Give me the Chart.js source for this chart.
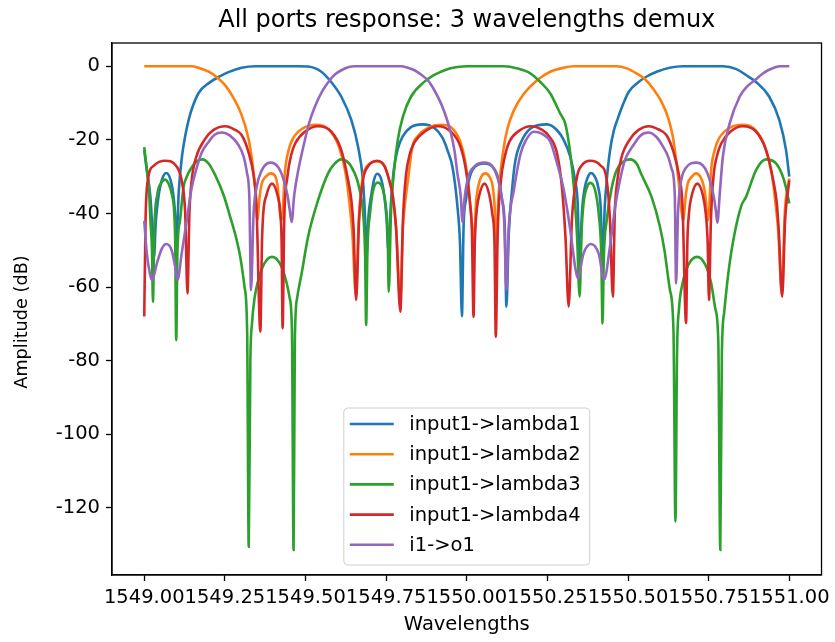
<!DOCTYPE html>
<html>
<head>
<meta charset="utf-8">
<title>All ports response: 3 wavelengths demux</title>
<script src="https://cdn.jsdelivr.net/npm/chart.js@4.4.1/dist/chart.umd.min.js"></script>
<style>
  html, body { margin: 0; padding: 0; background: #ffffff; }
  #wrap { width: 835px; height: 642px; }
</style>
</head>
<body>
<div id="wrap"><canvas id="chart" width="835" height="642"></canvas></div>
<script>
// ---- chart text ----
const chartTitle = 'All ports response: 3 wavelengths demux';
const xAxisLabel = 'Wavelengths';
const yAxisLabel = 'Amplitude (dB)';
const seriesNames = ['input1->lambda1', 'input1->lambda2', 'input1->lambda3', 'input1->lambda4', 'i1->o1'];
const seriesColors = ['#1f77b4', '#ff7f0e', '#2ca02c', '#d62728', '#9467bd'];

// ---- tick positions ----
const xTickValues = [1549.00, 1549.25, 1549.50, 1549.75, 1550.00, 1550.25, 1550.50, 1550.75, 1551.00];
const yTickValues = [-120, -100, -80, -60, -40, -20, 0];

// ---- input1->lambda1 ----
const lambda1Wl = [1549.000, 1549.008, 1549.019, 1549.025, 1549.030, 1549.036, 1549.044, 1549.055, 1549.068, 1549.082,
  1549.091, 1549.096, 1549.099, 1549.107, 1549.117, 1549.128, 1549.138, 1549.148, 1549.169, 1549.200,
  1549.231, 1549.261, 1549.302, 1549.345, 1549.477, 1549.508, 1549.549, 1549.575, 1549.611, 1549.642,
  1549.663, 1549.678, 1549.684, 1549.689, 1549.695, 1549.704, 1549.712, 1549.722, 1549.734, 1549.744,
  1549.751, 1549.757, 1549.765, 1549.774, 1549.786, 1549.802, 1549.826, 1549.863, 1549.900, 1549.925,
  1549.940, 1549.956, 1549.971, 1549.979, 1549.985, 1549.990, 1549.998, 1550.008, 1550.027, 1550.054,
  1550.079, 1550.098, 1550.109, 1550.118, 1550.123, 1550.130, 1550.140, 1550.150, 1550.169, 1550.203,
  1550.249, 1550.280, 1550.301, 1550.321, 1550.336, 1550.344, 1550.350, 1550.357, 1550.366, 1550.376,
  1550.385, 1550.397, 1550.408, 1550.416, 1550.420, 1550.428, 1550.434, 1550.444, 1550.456, 1550.468,
  1550.484, 1550.502, 1550.530, 1550.558, 1550.589, 1550.629, 1550.672, 1550.795, 1550.836, 1550.866,
  1550.897, 1550.938, 1550.969, 1550.990, 1551.000];
const lambda1Db = [-22.8, -28.2, -35.5, -44, -52, -42, -35.5, -30.8, -29, -31,
  -35.5, -41, -50, -34, -24.5, -18.5, -14.5, -11.5, -7.2, -4.6,
  -2.9, -1.6, -0.4, 0, 0, -0.1, -1.5, -3.8, -8.3, -14.6,
  -21.9, -30.9, -40, -52, -41, -35, -31, -29.2, -30.5, -35,
  -41, -50, -37, -28, -22.5, -19, -16.6, -15.8, -16.8, -19.5,
  -22.8, -27.5, -38, -48, -67.9, -44, -36, -30.5, -27.2, -26.4,
  -27.2, -30.5, -36, -44, -65.3, -46, -34, -26, -20.5, -16.6,
  -15.8, -17.4, -20.1, -24.6, -31, -37.3, -55, -40, -33, -30,
  -29, -30, -33, -40, -55, -38, -31, -23, -17.5, -14.3,
  -10.5, -7, -4.5, -2.8, -1.5, -0.4, 0, 0, -0.8, -2.4,
  -4.3, -8.3, -14.6, -22.8, -30];

// ---- input1->lambda2 ----
const lambda2Wl = [1549.000, 1549.148, 1549.169, 1549.200, 1549.228, 1549.251, 1549.272, 1549.302, 1549.323, 1549.335,
  1549.344, 1549.351, 1549.357, 1549.364, 1549.377, 1549.392, 1549.407, 1549.414, 1549.418, 1549.424,
  1549.429, 1549.436, 1549.447, 1549.460, 1549.493, 1549.533, 1549.573, 1549.604, 1549.626, 1549.636,
  1549.645, 1549.656, 1549.665, 1549.676, 1549.690, 1549.724, 1549.746, 1549.758, 1549.771, 1549.781,
  1549.794, 1549.802, 1549.809, 1549.819, 1549.831, 1549.848, 1549.879, 1549.919, 1549.959, 1549.987,
  1550.002, 1550.011, 1550.018, 1550.022, 1550.028, 1550.036, 1550.045, 1550.058, 1550.070, 1550.081,
  1550.087, 1550.092, 1550.098, 1550.105, 1550.115, 1550.126, 1550.146, 1550.177, 1550.218, 1550.259,
  1550.301, 1550.332, 1550.465, 1550.496, 1550.527, 1550.552, 1550.578, 1550.604, 1550.625, 1550.640,
  1550.650, 1550.657, 1550.664, 1550.672, 1550.678, 1550.685, 1550.698, 1550.711, 1550.724, 1550.736,
  1550.742, 1550.746, 1550.751, 1550.757, 1550.768, 1550.781, 1550.814, 1550.854, 1550.894, 1550.925,
  1550.947, 1550.957, 1550.966, 1550.977, 1550.986, 1551.000];
const lambda2Db = [0, 0, -0.45, -1.5, -3.2, -5.2, -7.9, -13.3, -19.6, -26,
  -33.2, -42, -36, -32, -30, -29.1, -30, -33, -37, -42,
  -40, -29, -23, -19.8, -16.8, -15.9, -17.2, -22, -30, -37,
  -45, -62, -42, -31, -27.2, -25.9, -27.2, -30.5, -35.5, -44,
  -64, -44, -37, -30, -22, -19, -16.8, -15.9, -17.2, -22.5,
  -30, -38, -45, -50, -38, -32.5, -30, -29.1, -30, -33,
  -39, -50, -36, -28.5, -21.9, -17, -12, -7.5, -3.8, -1.5,
  -0.4, 0, 0, -0.6, -2, -3.5, -6.1, -9.7, -14.2, -19.6,
  -26, -31.4, -38, -42, -36, -32, -30, -29.1, -30, -33,
  -37, -42, -40, -29, -23, -19.8, -16.8, -15.9, -17.2, -22,
  -30, -37, -45, -62, -40, -30.5];

// ---- input1->lambda3 ----
const lambda3Wl = [1549.000, 1549.008, 1549.015, 1549.019, 1549.024, 1549.027, 1549.031, 1549.041, 1549.052, 1549.064,
  1549.076, 1549.085, 1549.093, 1549.096, 1549.099, 1549.103, 1549.111, 1549.122, 1549.132, 1549.142,
  1549.163, 1549.180, 1549.200, 1549.220, 1549.246, 1549.265, 1549.284, 1549.298, 1549.311, 1549.319,
  1549.324, 1549.329, 1549.334, 1549.342, 1549.354, 1549.373, 1549.396, 1549.420, 1549.439, 1549.451,
  1549.458, 1549.463, 1549.467, 1549.474, 1549.488, 1549.508, 1549.539, 1549.570, 1549.589, 1549.611,
  1549.642, 1549.668, 1549.681, 1549.685, 1549.688, 1549.692, 1549.700, 1549.709, 1549.724, 1549.740,
  1549.749, 1549.755, 1549.758, 1549.765, 1549.775, 1549.786, 1549.802, 1549.827, 1549.869, 1549.894,
  1549.920, 1549.947, 1549.971, 1550.002, 1550.115, 1550.157, 1550.198, 1550.228, 1550.259, 1550.290,
  1550.306, 1550.321, 1550.332, 1550.342, 1550.350, 1550.356, 1550.362, 1550.373, 1550.383, 1550.398,
  1550.409, 1550.417, 1550.421, 1550.425, 1550.434, 1550.450, 1550.465, 1550.484, 1550.506, 1550.527,
  1550.542, 1550.573, 1550.599, 1550.613, 1550.630, 1550.641, 1550.647, 1550.652, 1550.658, 1550.669,
  1550.687, 1550.714, 1550.740, 1550.758, 1550.771, 1550.780, 1550.786, 1550.791, 1550.798, 1550.810,
  1550.826, 1550.851, 1550.866, 1550.897, 1550.928, 1550.959, 1550.978, 1550.990, 1551.000];
const lambda3Db = [-22, -28.2, -34, -41.8, -50, -64, -45, -34.6, -31.8, -30.8,
  -32, -34.6, -40, -48, -74.4, -50, -41.8, -32.8, -30, -28.2,
  -25.8, -25.3, -26.5, -29.6, -35, -40.5, -46.3, -52, -60, -72,
  -130.5, -80, -70, -63, -58, -53.5, -51.8, -53.5, -58, -63,
  -72, -131.4, -74.4, -63, -56.3, -46.3, -36.4, -29.1, -26.6, -25.3,
  -27.3, -33.7, -42.7, -52, -70.3, -50, -40, -34, -31.6, -33.5,
  -38, -46, -61.3, -40, -28, -20.1, -13.7, -8.3, -4.2, -2.6,
  -1.5, -0.6, -0.2, 0, 0, -0.6, -2, -4.3, -7.4, -12.9,
  -15.8, -23.7, -32.8, -46.3, -62.6, -45, -37.3, -32.8, -31.7, -33.7,
  -40, -50.9, -69.9, -52, -41.8, -32.8, -28.2, -26, -25.3, -26.5,
  -29.5, -35.5, -43.6, -50, -60.8, -72, -123.7, -78, -66, -59,
  -54, -51.8, -54, -59, -66, -75, -131.4, -78, -67, -57,
  -47.5, -38, -35.5, -28.2, -25.3, -26.4, -29.5, -33, -37.3];

// ---- input1->lambda4 ----
const lambda4Wl = [1549.000, 1549.004, 1549.011, 1549.030, 1549.065, 1549.101, 1549.118, 1549.127, 1549.134, 1549.140,
  1549.147, 1549.160, 1549.190, 1549.215, 1549.251, 1549.280, 1549.302, 1549.323, 1549.339, 1549.348,
  1549.360, 1549.365, 1549.369, 1549.379, 1549.396, 1549.413, 1549.422, 1549.426, 1549.429, 1549.434,
  1549.444, 1549.456, 1549.468, 1549.498, 1549.539, 1549.580, 1549.611, 1549.632, 1549.643, 1549.649,
  1549.657, 1549.666, 1549.678, 1549.694, 1549.722, 1549.745, 1549.758, 1549.771, 1549.781, 1549.794,
  1549.802, 1549.811, 1549.823, 1549.836, 1549.869, 1549.910, 1549.951, 1549.981, 1549.999, 1550.010,
  1550.016, 1550.021, 1550.025, 1550.030, 1550.039, 1550.055, 1550.070, 1550.079, 1550.086, 1550.090,
  1550.096, 1550.106, 1550.118, 1550.132, 1550.163, 1550.198, 1550.234, 1550.255, 1550.280, 1550.295,
  1550.306, 1550.316, 1550.326, 1550.342, 1550.357, 1550.383, 1550.414, 1550.434, 1550.444, 1550.453,
  1550.459, 1550.467, 1550.479, 1550.508, 1550.533, 1550.564, 1550.595, 1550.619, 1550.641, 1550.658,
  1550.669, 1550.680, 1550.684, 1550.689, 1550.698, 1550.715, 1550.732, 1550.741, 1550.747, 1550.751,
  1550.757, 1550.765, 1550.777, 1550.789, 1550.817, 1550.856, 1550.897, 1550.928, 1550.950, 1550.961,
  1550.967, 1550.978, 1550.987, 1551.000];
const lambda4Db = [-68, -42, -31, -27, -25.7, -27.3, -32, -40, -61.7, -40,
  -31, -25, -19.6, -17.3, -16.3, -17.2, -18.7, -23.3, -29.6, -38,
  -72.1, -48, -40, -35, -31.9, -35, -40, -48, -71.2, -42,
  -30, -24, -21, -17.8, -16.3, -17.8, -22.8, -30.9, -37, -44,
  -63.5, -42, -31, -27.2, -25.7, -27.2, -30.5, -35.5, -44.2, -66.7,
  -42, -30, -24, -21, -17.8, -16.3, -17.8, -22, -29, -37,
  -45, -68.1, -48, -40, -35, -31.9, -35, -40, -48, -73.5,
  -45, -31, -24.5, -20.5, -17.5, -16.3, -17.3, -19, -23.7, -32.8,
  -46.3, -65.3, -41.8, -30, -26.9, -25.7, -26.9, -31, -41.8, -62.6,
  -40, -31, -25, -19.6, -17.3, -16.3, -17.2, -18.7, -23.3, -29.6,
  -38, -69.8, -48, -40, -35, -31.9, -35, -40, -48, -63.5,
  -42, -30, -24, -21, -17.8, -16.3, -17.8, -22.8, -30.9, -37,
  -44, -62.6, -42, -31];

// ---- i1->o1 ----
const i1o1Wl = [1549.000, 1549.008, 1549.018, 1549.024, 1549.039, 1549.055, 1549.068, 1549.085, 1549.096, 1549.103,
  1549.116, 1549.132, 1549.147, 1549.163, 1549.178, 1549.200, 1549.218, 1549.241, 1549.265, 1549.292,
  1549.308, 1549.318, 1549.326, 1549.331, 1549.339, 1549.348, 1549.363, 1549.391, 1549.416, 1549.431,
  1549.444, 1549.451, 1549.457, 1549.465, 1549.477, 1549.498, 1549.511, 1549.529, 1549.552, 1549.575,
  1549.592, 1549.611, 1549.632, 1549.652, 1549.796, 1549.817, 1549.838, 1549.857, 1549.879, 1549.900,
  1549.920, 1549.936, 1549.951, 1549.962, 1549.971, 1549.981, 1549.987, 1549.993, 1550.005, 1550.024,
  1550.054, 1550.079, 1550.096, 1550.107, 1550.116, 1550.123, 1550.130, 1550.146, 1550.167, 1550.184,
  1550.208, 1550.234, 1550.259, 1550.280, 1550.301, 1550.321, 1550.336, 1550.344, 1550.362, 1550.385,
  1550.409, 1550.426, 1550.444, 1550.460, 1550.475, 1550.490, 1550.517, 1550.539, 1550.563, 1550.589,
  1550.609, 1550.624, 1550.635, 1550.645, 1550.649, 1550.655, 1550.663, 1550.678, 1550.712, 1550.737,
  1550.752, 1550.765, 1550.772, 1550.777, 1550.785, 1550.794, 1550.815, 1550.846, 1550.866, 1550.896,
  1550.916, 1550.934, 1550.953, 1550.971, 1551.000];
const i1o1Db = [-42, -50.9, -56.5, -58.1, -53.6, -49.5, -48.3, -50, -54.5, -58.1,
  -50.9, -41.8, -33, -27.5, -23.5, -20.5, -18.6, -18, -18.8, -21.4,
  -24.5, -28.7, -36, -60.8, -40, -33, -28.5, -26.2, -27.5, -30.5,
  -35, -39, -42.3, -35, -28.5, -20.1, -15.5, -11, -6.8, -3.8,
  -2.2, -1.1, -0.3, 0, 0, -0.4, -1.1, -2.2, -3.8, -6.6,
  -10.1, -13.8, -18.3, -23, -29.1, -35, -42.3, -36, -30, -27.2,
  -26.2, -27.2, -30.5, -35, -42, -60.8, -44, -33.7, -23.7, -20,
  -17.8, -18.4, -20.5, -26.4, -33.7, -44.5, -54.5, -57.6, -50.9, -48.3,
  -50.9, -57.9, -49, -38.2, -31, -25.6, -21.4, -18.8, -18, -19.3,
  -21.9, -24.5, -27.8, -35, -59, -40, -32, -27.8, -26.2, -27.5,
  -30.5, -35, -39, -42.5, -34, -24.6, -15.6, -8.3, -5.8, -3.6,
  -2.1, -1.1, -0.4, 0, 0];

const seriesWl = [lambda1Wl, lambda2Wl, lambda3Wl, lambda4Wl, i1o1Wl];
const seriesDb = [lambda1Db, lambda2Db, lambda3Db, lambda4Db, i1o1Db];

// ---- styling ----
const FONT = 'DejaVu Sans';
const tickFont = { family: FONT, size: 19.5 };
const TEXT = '#000000';

const datasets = seriesNames.map((name, k) => ({
  label: name,
  data: seriesWl[k].map((w, i) => ({ x: w, y: seriesDb[k][i] })),
  borderColor: seriesColors[k],
  backgroundColor: seriesColors[k],
  borderWidth: 2.6,
  pointRadius: 0,
  fill: false,
  cubicInterpolationMode: 'monotone',
  // later series sit on top, as in the plotting order
  order: seriesNames.length - k
}));

// frame, title, y label and in-plot legend
const decorations = {
  id: 'decorations',
  afterDraw(chart) {
    const { ctx, chartArea: a } = chart;
    ctx.save();
    ctx.strokeStyle = '#000';
    ctx.lineWidth = 1.3;
    ctx.strokeRect(a.left, a.top, a.right - a.left, a.bottom - a.top);

    ctx.fillStyle = TEXT;
    ctx.font = `24px "${FONT}"`;
    ctx.textAlign = 'center';
    ctx.textBaseline = 'middle';
    ctx.fillText(chartTitle, (a.left + a.right) / 2, 21);

    // vertical axis label
    ctx.save();
    ctx.translate(22, 322);
    ctx.rotate(-Math.PI / 2);
    ctx.font = `17.7px "${FONT}"`;
    ctx.fillText(yAxisLabel, 0, 0);
    ctx.restore();

    // legend box, lower centre of the axes
    ctx.font = `${tickFont.size}px "${FONT}"`;
    const textW = Math.max(...seriesNames.map(n => ctx.measureText(n).width));
    const rowH = 30.2;
    const boxW = 6 + 44 + 15.5 + textW + 9;
    const boxH = rowH * seriesNames.length + 6;
    const cx = (a.left + a.right) / 2;
    const bx = cx - boxW / 2;
    const by = a.bottom - 10 - boxH;
    const r = 4;
    ctx.beginPath();
    ctx.moveTo(bx + r, by);
    ctx.arcTo(bx + boxW, by, bx + boxW, by + boxH, r);
    ctx.arcTo(bx + boxW, by + boxH, bx, by + boxH, r);
    ctx.arcTo(bx, by + boxH, bx, by, r);
    ctx.arcTo(bx, by, bx + boxW, by, r);
    ctx.closePath();
    ctx.fillStyle = 'rgba(255,255,255,0.8)';
    ctx.fill();
    ctx.strokeStyle = '#d0d0d0';
    ctx.lineWidth = 1;
    ctx.stroke();

    ctx.textAlign = 'left';
    ctx.textBaseline = 'middle';
    seriesNames.forEach((name, k) => {
      const y = by + 16 + k * rowH;
      ctx.strokeStyle = seriesColors[k];
      ctx.lineWidth = 2.6;
      ctx.beginPath();
      ctx.moveTo(bx + 6, y);
      ctx.lineTo(bx + 50, y);
      ctx.stroke();
      ctx.fillStyle = TEXT;
      ctx.fillText(name, bx + 65.5, y + 1);
    });
    ctx.restore();
  }
};

new Chart(document.getElementById('chart'), {
  type: 'line',
  data: { datasets },
  plugins: [decorations],
  options: {
    responsive: false,
    animation: false,
    devicePixelRatio: 1,
    layout: { padding: { top: 43, right: 9, left: 0, bottom: 0 } },
    plugins: {
      legend: { display: false },
      title: { display: false },
      tooltip: { enabled: false }
    },
    scales: {
      x: {
        type: 'linear',
        min: 1548.9,
        max: 1551.1,
        afterBuildTicks: s => { s.ticks = xTickValues.map(v => ({ value: v })); },
        afterFit: s => { s.height = 67; },
        ticks: {
          autoSkip: false, maxRotation: 0, minRotation: 0,
          font: tickFont, color: TEXT, padding: 5,
          callback: v => Number(v).toFixed(2)
        },
        grid: { display: true, drawOnChartArea: false, drawTicks: true, tickLength: 6, tickWidth: 1.3, tickColor: '#000' },
        border: { display: true, color: '#000', width: 1.3 },
        title: { display: true, text: xAxisLabel, font: tickFont, color: TEXT, padding: { top: 0, bottom: 5 } }
      },
      y: {
        type: 'linear',
        min: -138.2,
        max: 6.3,
        afterBuildTicks: s => { s.ticks = yTickValues.map(v => ({ value: v })); },
        afterFit: s => { s.width = 112; },
        ticks: { font: tickFont, color: TEXT, padding: 6, callback: v => String(v) },
        grid: { display: true, drawOnChartArea: false, drawTicks: true, tickLength: 6, tickWidth: 1.3, tickColor: '#000' },
        border: { display: true, color: '#000', width: 1.3 },
        title: { display: false }
      }
    }
  }
});
</script>
</body>
</html>
